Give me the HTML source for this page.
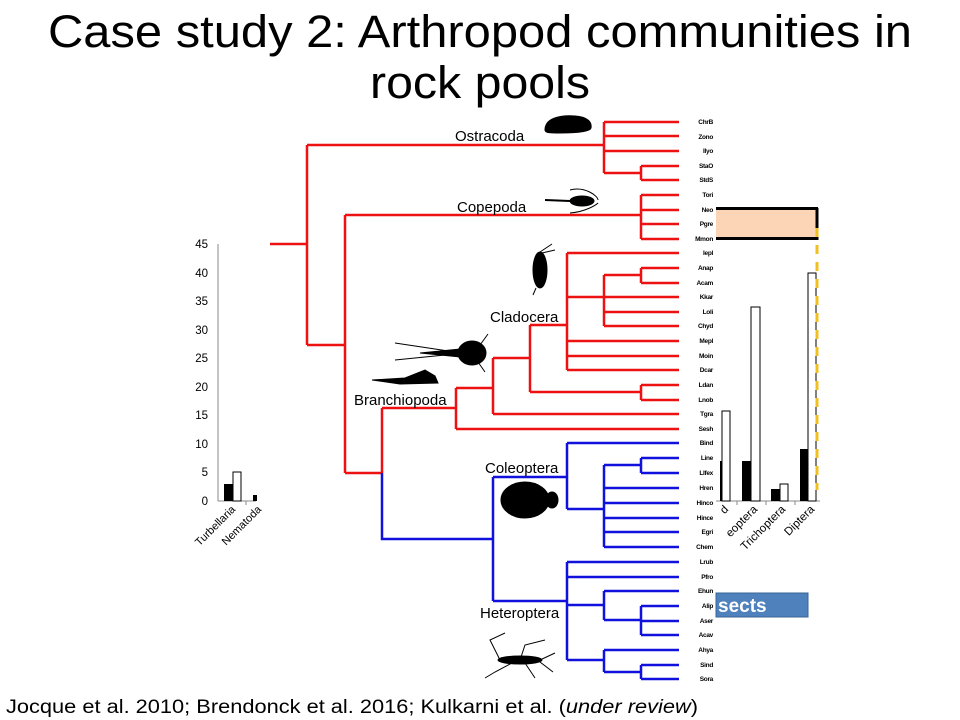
<!DOCTYPE html>
<html><head><meta charset="utf-8"><style>
html,body{margin:0;padding:0;background:#fff;}
body{width:960px;height:720px;overflow:hidden;position:relative;font-family:"Liberation Sans",sans-serif;}
</style></head><body>
<svg width="960" height="720" viewBox="0 0 960 720" xmlns="http://www.w3.org/2000/svg" style="position:absolute;left:0;top:0">
<g font-family="Liberation Sans, sans-serif">
<text x="48" y="47" font-size="45" fill="#000" textLength="864" lengthAdjust="spacingAndGlyphs">Case study 2: Arthropod communities in</text>
<text x="370" y="98" font-size="45" fill="#000" textLength="220" lengthAdjust="spacingAndGlyphs">rock pools</text>

<!-- orange box -->
<rect x="716" y="208" width="101" height="31" fill="#fbd5b5"/>
<line x1="716" y1="208.5" x2="818" y2="208.5" stroke="#000" stroke-width="3"/>
<line x1="716" y1="238.5" x2="818" y2="238.5" stroke="#000" stroke-width="3"/>
<line x1="817" y1="208" x2="817" y2="240" stroke="#000" stroke-width="3"/>

<!-- left bar chart -->
<g stroke="#888" stroke-width="1">
<line x1="218" y1="244" x2="218" y2="501"/>
<line x1="218" y1="501" x2="256" y2="501"/>
<line x1="246" y1="501" x2="246" y2="505"/>
</g>
<g font-size="11.5" fill="#000" text-anchor="end">
<text x="208" y="248">45</text><text x="208" y="277">40</text><text x="208" y="305">35</text>
<text x="208" y="334">30</text><text x="208" y="362">25</text><text x="208" y="391">20</text>
<text x="208" y="419">15</text><text x="208" y="448">10</text><text x="208" y="476">5</text><text x="208" y="505">0</text>
</g>
<rect x="224" y="484" width="9" height="17" fill="#000"/>
<rect x="233" y="472" width="8" height="29" fill="#fff" stroke="#000"/>
<rect x="253" y="495" width="4" height="6" fill="#000"/>
<text font-size="11" transform="translate(236,510) rotate(-45)" text-anchor="end">Turbellaria</text>
<text font-size="11" transform="translate(262,510) rotate(-45)" text-anchor="end">Nematoda</text>

<!-- right bar chart -->
<line x1="716" y1="501" x2="820" y2="501" stroke="#888"/>
<g stroke="#888"><line x1="737" y1="501" x2="737" y2="505"/><line x1="766" y1="501" x2="766" y2="505"/><line x1="795" y1="501" x2="795" y2="505"/></g>
<rect x="720" y="461" width="7" height="40" fill="#000"/>
<rect x="722" y="411" width="8" height="90" fill="#fff" stroke="#000"/>
<rect x="742" y="461" width="9" height="40" fill="#000"/>
<rect x="751" y="307" width="9" height="194" fill="#fff" stroke="#000"/>
<rect x="771" y="489" width="9" height="12" fill="#000"/>
<rect x="780" y="484" width="8" height="17" fill="#fff" stroke="#000"/>
<rect x="800" y="449" width="8" height="52" fill="#000"/>
<rect x="808" y="273" width="8" height="228" fill="#fff" stroke="#000"/>
<line x1="817" y1="228" x2="817" y2="490" stroke="#f0c020" stroke-width="3" stroke-dasharray="9,8"/>
<g font-size="11.5" text-anchor="end">
<text transform="translate(729,510) rotate(-45)">d</text>
<text transform="translate(758,510) rotate(-45)">eoptera</text>
<text transform="translate(786,510) rotate(-45)">Trichoptera</text>
<text transform="translate(815,510) rotate(-45)">Diptera</text>
</g>
<rect x="716" y="593" width="92" height="24" fill="#4f81bd" stroke="#3a6595"/>
<text x="718" y="612" font-size="19" font-weight="bold" fill="#fff">sects</text>

<!-- tree red -->
<g stroke="#ee1111" stroke-width="2.5" fill="none">
<path d="M270 244H307M307 145V345M307 145H604M604 122V173M604 122H679M604 136H679M604 151H679M604 173H641M641 166V180M641 166H679M641 180H679"/>
<path d="M307 345H345M345 215V473M345 215H641M641 195V239M641 195H679M641 210H679M641 224H679M641 239H679"/>
<path d="M345 473H382M382 408V473M382 408H456M456 388V429M456 429H679M456 388H493M493 358V414M493 414H679M493 358H530M530 325V392M530 392H641M641 385V400M641 385H679M641 400H679"/>
<path d="M530 325H567M567 253V370M567 253H679M567 297H604M567 341H679M567 356H679M567 370H679M604 275V326M604 275H641M641 268V283M641 268H679M641 283H679M604 297H679M604 312H679M604 326H679"/>
</g>
<g stroke="#1111dd" stroke-width="2.5" fill="none">
<path d="M382 473V539H493M493 477V601M493 477H567M567 443V509M567 443H679M567 509H604M604 465V547M604 465H641M641 458V473M641 458H679M641 473H679M604 488H679M604 503H679M604 518H679M604 532H679M604 547H679"/>
<path d="M493 601H567M567 562V660M567 562H679M567 577H679M567 605H604M604 591V620M604 591H679M604 620H641M641 606V635M641 606H679M641 621H679M641 635H679M567 660H604M604 650V672M604 650H679M604 672H641M641 665V679M641 665H679M641 679H679"/>
</g>
<g font-size="6.5" font-weight="bold" text-anchor="end" fill="#000" letter-spacing="-0.3">
<text x="713" y="124">ChrB</text><text x="713" y="139">Zono</text><text x="713" y="153">Ilyo</text><text x="713" y="168">StaO</text><text x="713" y="182">StdS</text>
<text x="713" y="197">Tori</text><text x="713" y="212">Neo</text><text x="713" y="226">Pgre</text><text x="713" y="241">Mmon</text><text x="713" y="255">Iepl</text>
<text x="713" y="270">Anap</text><text x="713" y="285">Acam</text><text x="713" y="299">Kkar</text><text x="713" y="314">Loli</text><text x="713" y="328">Chyd</text>
<text x="713" y="343">Mepl</text><text x="713" y="358">Moin</text><text x="713" y="372">Dcar</text><text x="713" y="387">Ldan</text><text x="713" y="402">Lnob</text>
<text x="713" y="416">Tgra</text><text x="713" y="431">Sesh</text><text x="713" y="445">Bind</text><text x="713" y="460">Line</text><text x="713" y="475">Llfex</text>
<text x="713" y="490">Hren</text><text x="713" y="505">Hinco</text><text x="713" y="520">Hince</text><text x="713" y="534">Egri</text><text x="713" y="549">Chem</text>
<text x="713" y="564">Lrub</text><text x="713" y="579">Pfro</text><text x="713" y="593">Ehun</text><text x="713" y="608">Alip</text><text x="713" y="623">Aser</text>
<text x="713" y="637">Acav</text><text x="713" y="652">Ahya</text><text x="713" y="667">Sind</text><text x="713" y="681">Sora</text>
</g>
<g font-size="15" fill="#000">
<text x="455" y="141">Ostracoda</text>
<text x="457" y="212">Copepoda</text>
<text x="490" y="322">Cladocera</text>
<text x="354" y="405">Branchiopoda</text>
<text x="485" y="473">Coleoptera</text>
<text x="480" y="618">Heteroptera</text>
</g>
<!-- silhouettes -->
<g fill="#000" stroke="#000">
<path d="M545 130C545 118 560 115 575 116C588 117 592 122 591 128C590 132 575 133 560 133C550 133 545 133 545 130Z"/>
<ellipse cx="582" cy="201" rx="12" ry="5"/><line x1="545" y1="200" x2="570" y2="201" stroke-width="2"/>
<path d="M570 190C585 186 598 196 598 200M570 213C585 212 596 205 598 203" fill="none" stroke-width="1"/>
<ellipse cx="540" cy="270" rx="7" ry="18"/><path d="M540 252L552 244M542 253L555 250M536 288L533 295" fill="none" stroke-width="1"/>
<ellipse cx="472" cy="353" rx="14" ry="12"/><path d="M420 353L460 349L460 357Z"/><path d="M395 343L455 352M395 360L455 354M480 345L488 334M478 362L485 372" fill="none" stroke-width="1"/>
<path d="M372 380L405 378L425 370L435 376L438 383L400 384Z"/>
<ellipse cx="525" cy="500" rx="24" ry="18"/><ellipse cx="552" cy="500" rx="6" ry="8"/>
<ellipse cx="520" cy="660" rx="22" ry="4"/><path d="M500 660L490 640L505 633M520 660L525 645L545 640M512 663L495 672L485 678M525 663L535 678M540 660L555 653M540 662L553 672" fill="none" stroke-width="1"/>
</g>
<text x="6" y="713" font-size="19" fill="#000" textLength="692" lengthAdjust="spacingAndGlyphs">Jocque et al. 2010; Brendonck et al. 2016; Kulkarni et al. (<tspan font-style="italic">under review</tspan>)</text>
</g>
</svg>
</body></html>
